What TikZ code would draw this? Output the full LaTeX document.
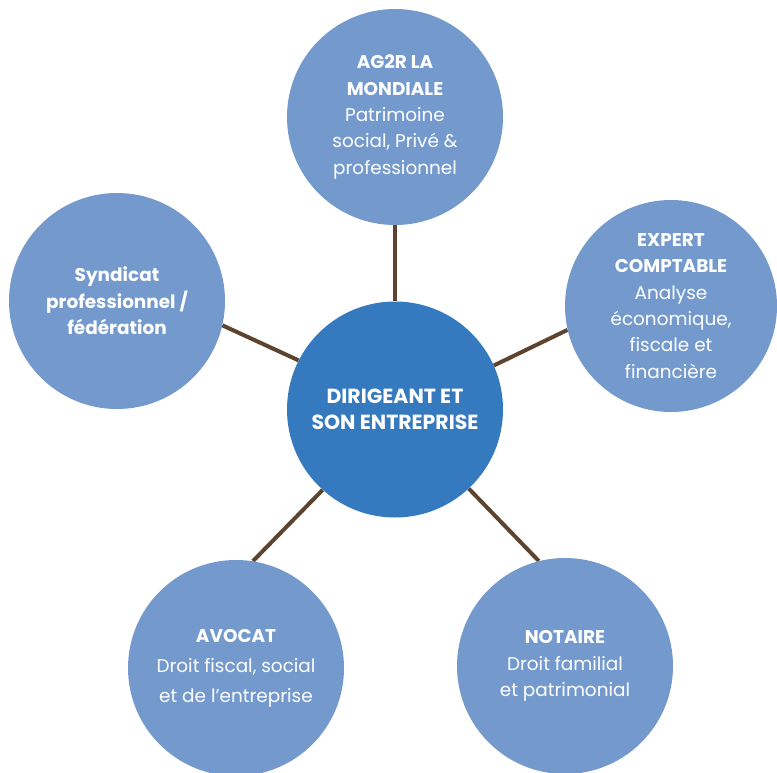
\documentclass[tikz,border=0pt]{standalone}
\usepackage{fontspec}
\setmainfont{Poppins}
\usetikzlibrary{backgrounds}
\definecolor{ringblue}{HTML}{7399CD}
\definecolor{hubblue}{HTML}{357ABF}
\definecolor{linkbrown}{HTML}{5C4430}
\begin{document}
\begin{tikzpicture}[x=1bp,y=-1bp,
  partner/.style={circle,fill=ringblue,minimum size=216bp,inner sep=0pt,text=white,align=center,font=\fontsize{18.5}{26.5}\selectfont},
  hub/.style={partner,fill=hubblue,font=\fontsize{20.5}{26}\selectfont},
  link/.style={draw=linkbrown,line width=4bp}]
\useasboundingbox (0,0) rectangle (777,773);
%centre
\node[hub] (hub) at (395,409.5) {\textbf{DIRIGEANT ET}\\\textbf{SON ENTREPRISE}};
%partners
\node[partner] (ag2r) at (395,117) {\textbf{AG2R LA}\\\textbf{MONDIALE}\\Patrimoine\\social, Privé \&\\professionnel};
\node[partner,minimum size=212bp] (expert) at (671,306) {\textbf{EXPERT}\\\textbf{COMPTABLE}\\Analyse\\économique,\\fiscale et\\financière};
\node[partner] (syndicat) at (117,301) {\textbf{Syndicat}\\\textbf{professionnel /}\\\textbf{fédération}};
\node[partner] (avocat) at (236,668) {\textbf{AVOCAT}\\[3.5bp]Droit fiscal, social\\[3.5bp]et de l’entreprise};
\node[partner] (notaire) at (565,666) {\textbf{NOTAIRE}\\Droit familial\\et patrimonial};
%links
\begin{pgfonlayer}{background}
\draw[link] (hub.90) -- (ag2r.270);
\draw[link] (hub.24.9) -- (expert.193.5);
\draw[link] (hub.153.7) -- (syndicat.-13.4);
\draw[link] (hub.228.2) -- (avocat.81);
\draw[link] (hub.-47.8) -- (notaire.104);
\end{pgfonlayer}
\end{tikzpicture}
\end{document}
